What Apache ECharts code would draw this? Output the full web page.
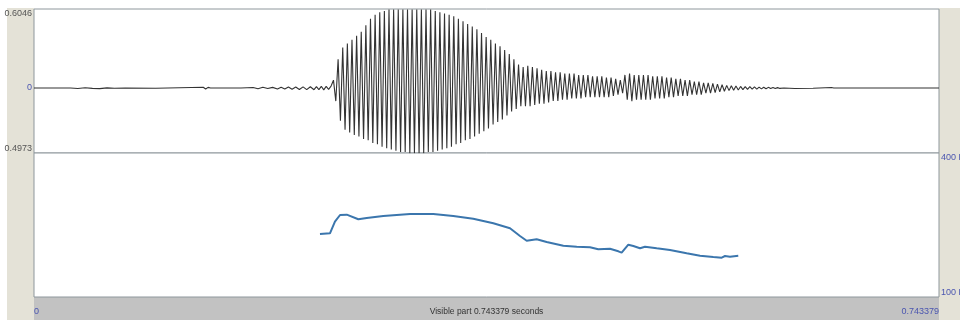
<!DOCTYPE html>
<html>
<head>
<meta charset="utf-8">
<script src="https://cdn.jsdelivr.net/npm/echarts@6/dist/echarts.min.js"></script>
<style>html,body{margin:0;padding:0;background:#fff;}#c{width:960px;height:320px;}</style>
</head>
<body>
<div id="c"></div>
<script>
// ---- data ----
const duration = 0.743379;
const ampMin = -0.4973;
const ampMax = 0.6046;
const ampTicks = [-0.4973, 0, 0.6046];
const ampTickLabels = ['0.4973', '0', '0.6046'];
const pitchMin = 100;
const pitchMax = 400;
const pitchTicks = [100, 400];
const pitchTickLabels = ['100 Hz', '400 Hz'];
const timeTicks = [0, 0.743379];
const timeTickLabels = ['0', '0.743379'];
const timeTitle = 'Visible part 0.743379 seconds';

// waveform: pre-voicing noise
const preT = [0, 0.030, 0.036, 0.042, 0.048, 0.054, 0.060, 0.066, 0.075, 0.100, 0.139, 0.141, 0.143, 0.145, 0.170, 0.180, 0.184, 0.188, 0.192, 0.196, 0.200, 0.203, 0.206, 0.209, 0.212, 0.215, 0.218, 0.221, 0.224, 0.227, 0.230, 0.232, 0.234, 0.236, 0.238, 0.240, 0.242, 0.244];
const preV = [0, 0, -0.004, 0.002, -0.003, -0.005, 0.001, -0.002, 0, -0.002, 0.006, -0.008, 0.005, 0, 0, 0.004, -0.005, 0.006, -0.004, 0.005, -0.007, 0.006, -0.008, 0.007, -0.009, 0.008, -0.011, 0.009, -0.012, 0.010, -0.013, 0.011, -0.012, 0.013, -0.014, 0.012, -0.010, 0.015];

// waveform: voiced cycles (peak / trough extremes)
const voicedT = [
0.2460,0.2479,0.2498,0.2517,0.2536,0.2555,0.2574,0.2593,0.2612,0.2631,
0.2650,0.2669,0.2688,0.2707,0.2726,0.2745,0.2764,0.2783,0.2802,0.2821,
0.2840,0.2859,0.2878,0.2897,0.2916,0.2935,0.2954,0.2973,0.2992,0.3011,
0.3030,0.3049,0.3068,0.3087,0.3106,0.3125,0.3144,0.3163,0.3182,0.3201,
0.3220,0.3239,0.3258,0.3277,0.3296,0.3315,0.3334,0.3353,0.3372,0.3391,
0.3410,0.3429,0.3448,0.3467,0.3486,0.3505,0.3524,0.3543,0.3562,0.3581,
0.3600,0.3619,0.3638,0.3657,0.3676,0.3695,0.3714,0.3733,0.3752,0.3771,
0.3790,0.3809,0.3828,0.3847,0.3866,0.3885,0.3904,0.3923,0.3942,0.3961,
0.3980,0.3999,0.4018,0.4037,0.4056,0.4075,0.4094,0.4113,0.4132,0.4151,
0.4170,0.4189,0.4208,0.4227,0.4246,0.4265,0.4284,0.4303,0.4322,0.4341,
0.4360,0.4379,0.4398,0.4417,0.4436,0.4455,0.4474,0.4493,0.4512,0.4531,
0.4550,0.4569,0.4588,0.4607,0.4626,0.4645,0.4664,0.4683,0.4702,0.4721,
0.4740,0.4759,0.4778,0.4797,0.4816,0.4835,0.4854,0.4873,0.4892,0.4911,
0.4930,0.4949,0.4968,0.4987,0.5006,0.5025,0.5044,0.5063,0.5082,0.5101,
0.5120,0.5139,0.5158,0.5177,0.5196,0.5215,0.5234,0.5253,0.5272,0.5291,
0.5310,0.5329,0.5348,0.5367,0.5386,0.5405,0.5424,0.5443,0.5462,0.5481,
0.5500,0.5519,0.5538,0.5557,0.5576,0.5595,0.5614,0.5633,0.5652,0.5671,
0.5690,0.5709,0.5728,0.5747,0.5766,0.5785,0.5804,0.5823,0.5842,0.5861,
0.5880,0.5899,0.5918,0.5937,0.5956,0.5975,0.5994,0.6013,0.6032,0.6051,
0.6070,0.6089,0.6108,0.6127];
const voicedV = [
0.06,-0.10, 0.22,-0.25, 0.31,-0.32, 0.34,-0.34, 0.37,-0.36,
0.40,-0.37, 0.43,-0.39, 0.48,-0.40, 0.53,-0.42, 0.56,-0.43,
0.58,-0.45, 0.59,-0.46, 0.60,-0.47, 0.60,-0.48, 0.60,-0.49,
0.60,-0.49, 0.60,-0.50, 0.60,-0.50, 0.60,-0.50, 0.60,-0.50,
0.60,-0.49, 0.60,-0.49, 0.59,-0.48, 0.58,-0.47, 0.57,-0.46,
0.56,-0.45, 0.55,-0.43, 0.53,-0.42, 0.51,-0.40, 0.49,-0.39,
0.47,-0.37, 0.45,-0.35, 0.42,-0.33, 0.39,-0.31, 0.37,-0.28,
0.34,-0.26, 0.32,-0.24, 0.29,-0.21, 0.26,-0.18, 0.22,-0.16,
0.18,-0.14, 0.16,-0.14, 0.17,-0.14, 0.16,-0.13, 0.15,-0.12,
0.14,-0.12, 0.13,-0.11, 0.13,-0.10, 0.12,-0.10, 0.12,-0.09,
0.11,-0.09, 0.11,-0.08, 0.11,-0.08, 0.10,-0.08, 0.10,-0.07,
0.10,-0.07, 0.09,-0.07, 0.09,-0.07, 0.09,-0.07, 0.08,-0.07,
0.08,-0.06, 0.07,-0.05, 0.06,-0.04, 0.10,-0.09, 0.11,-0.10,
0.10,-0.09, 0.10,-0.09, 0.10,-0.09, 0.10,-0.09, 0.09,-0.08,
0.09,-0.08, 0.09,-0.08, 0.08,-0.07, 0.08,-0.07, 0.07,-0.06,
0.07,-0.06, 0.06,-0.06, 0.06,-0.05, 0.05,-0.05, 0.05,-0.05,
0.04,-0.04, 0.04,-0.04, 0.035,-0.035, 0.03,-0.03, 0.025,-0.025,
0.02,-0.02, 0.018,-0.018, 0.015,-0.015, 0.012,-0.012, 0.010,-0.010,
0.010,-0.009, 0.008,-0.008, 0.007,-0.007, 0.006,-0.006, 0.005,-0.004,
0.004,-0.004, 0.003,-0.003];

// waveform: tail
const postT = [0.616, 0.625, 0.640, 0.655, 0.656, 0.657, 0.680, 0.743379];
const postV = [0, -0.004, -0.002, 0.004, -0.006, 0, 0, 0];

// pitch contour (Hz)
const pitchT = [0.2349,0.2431,0.2472,0.2514,0.2569,0.2664,0.2733,0.2869,0.3089,0.3280,0.3444,0.3608,0.3773,0.3910,0.3992,0.4047,0.4129,0.4211,0.4348,0.4458,0.4567,0.4635,0.4731,0.4800,0.4827,0.4882,0.4923,0.4978,0.5019,0.5115,0.5224,0.5361,0.5471,0.5580,0.5649,0.5676,0.5717,0.5785];
const pitchHz = [231.2,232.7,256.9,270.8,271.5,261.9,264.6,268.8,272.9,272.9,268.8,263.1,253.5,243.1,227.1,217.3,220.2,214.6,206.9,204.8,203.5,199.4,200.6,195.2,192.3,209.0,206.3,201.5,204.8,201.5,197.9,191.0,186.0,183.3,181.9,185.4,184.0,186.0];

// ---- build ----
const zip = (a, b) => a.map((t, i) => [t, b[i]]);
const waveData = zip(preT, preV).concat(zip(voicedT, voicedV), zip(postT, postV));
const pitchData = zip(pitchT, pitchHz);

const FONT = '"Liberation Sans", Arial, sans-serif';
const L = 34, R = 939, T1 = 9, B1 = 153, B2 = 297;

const chart = echarts.init(document.getElementById('c'), null, {renderer: 'canvas'});
const labelOf = (ticks, labels) => v => {
  let best = 0, d = Infinity;
  ticks.forEach((t, i) => { const dd = Math.abs(t - v); if (dd < d) { d = dd; best = i; } });
  return labels[best];
};

chart.setOption({
  animation: false,
  backgroundColor: '#ffffff',
  graphic: [
    {type: 'rect', silent: true, z: -10, shape: {x: 7, y: 8, width: L - 7, height: 320 - 8}, style: {fill: '#e4e2d7'}},
    {type: 'rect', silent: true, z: -10, shape: {x: R, y: 8, width: 960 - R, height: 320 - 8}, style: {fill: '#e4e2d7'}},
    {type: 'rect', silent: true, z: -10, shape: {x: L, y: B2, width: R - L, height: 320 - B2}, style: {fill: '#c2c2c2'}}
  ],
  grid: [
    {left: L, top: T1, width: R - L, height: B1 - T1, show: true, backgroundColor: '#ffffff', borderColor: '#8e979c', borderWidth: 1, outerBoundsMode: 'none', containLabel: false},
    {left: L, top: B1, width: R - L, height: B2 - B1, show: true, backgroundColor: '#ffffff', borderColor: '#8e979c', borderWidth: 1, outerBoundsMode: 'none', containLabel: false}
  ],
  xAxis: [
    {type: 'value', gridIndex: 0, min: 0, max: duration, show: false},
    {type: 'value', gridIndex: 1, min: 0, max: duration,
     axisLine: {show: false}, axisTick: {show: false}, splitLine: {show: false},
     axisLabel: {customValues: timeTicks, formatter: labelOf(timeTicks, timeTickLabels),
       color: '#4a55b0', fontSize: 9, fontFamily: FONT, margin: 10,
       alignMinLabel: 'left', alignMaxLabel: 'right'},
     name: timeTitle, nameLocation: 'middle', nameGap: 10, nameMoveOverlap: false,
     nameTextStyle: {color: '#333', fontSize: 8.5, fontFamily: FONT}}
  ],
  yAxis: [
    {type: 'value', gridIndex: 0, min: ampMin, max: ampMax,
     axisLine: {show: false}, axisTick: {show: false}, splitLine: {show: false},
     axisLabel: {customValues: ampTicks,
       formatter: v => { const s = labelOf(ampTicks, ampTickLabels)(v); return s === '0' ? '{z|' + s + '}' : s; },
       rich: {z: {color: '#4a55b0', fontSize: 9, fontFamily: FONT}},
       color: '#555', fontSize: 9, fontFamily: FONT, margin: 2,
       verticalAlignMaxLabel: 'top', verticalAlignMinLabel: 'bottom'}},
    {type: 'value', gridIndex: 1, min: pitchMin, max: pitchMax, position: 'right',
     axisLine: {show: false}, axisTick: {show: false}, splitLine: {show: false},
     axisLabel: {customValues: pitchTicks, formatter: labelOf(pitchTicks, pitchTickLabels),
       color: '#4a55b0', fontSize: 9, fontFamily: FONT, margin: 2,
       verticalAlignMaxLabel: 'top', verticalAlignMinLabel: 'bottom'}}
  ],
  series: [
    {type: 'line', xAxisIndex: 0, yAxisIndex: 0, data: waveData, showSymbol: false, symbol: 'none',
     sampling: null, lineStyle: {color: '#333333', width: 1.1}, clip: true},
    {type: 'line', xAxisIndex: 1, yAxisIndex: 1, data: pitchData, showSymbol: false, symbol: 'none',
     lineStyle: {color: '#3b76ad', width: 2}, clip: true}
  ]
});
</script>
</body>
</html>
